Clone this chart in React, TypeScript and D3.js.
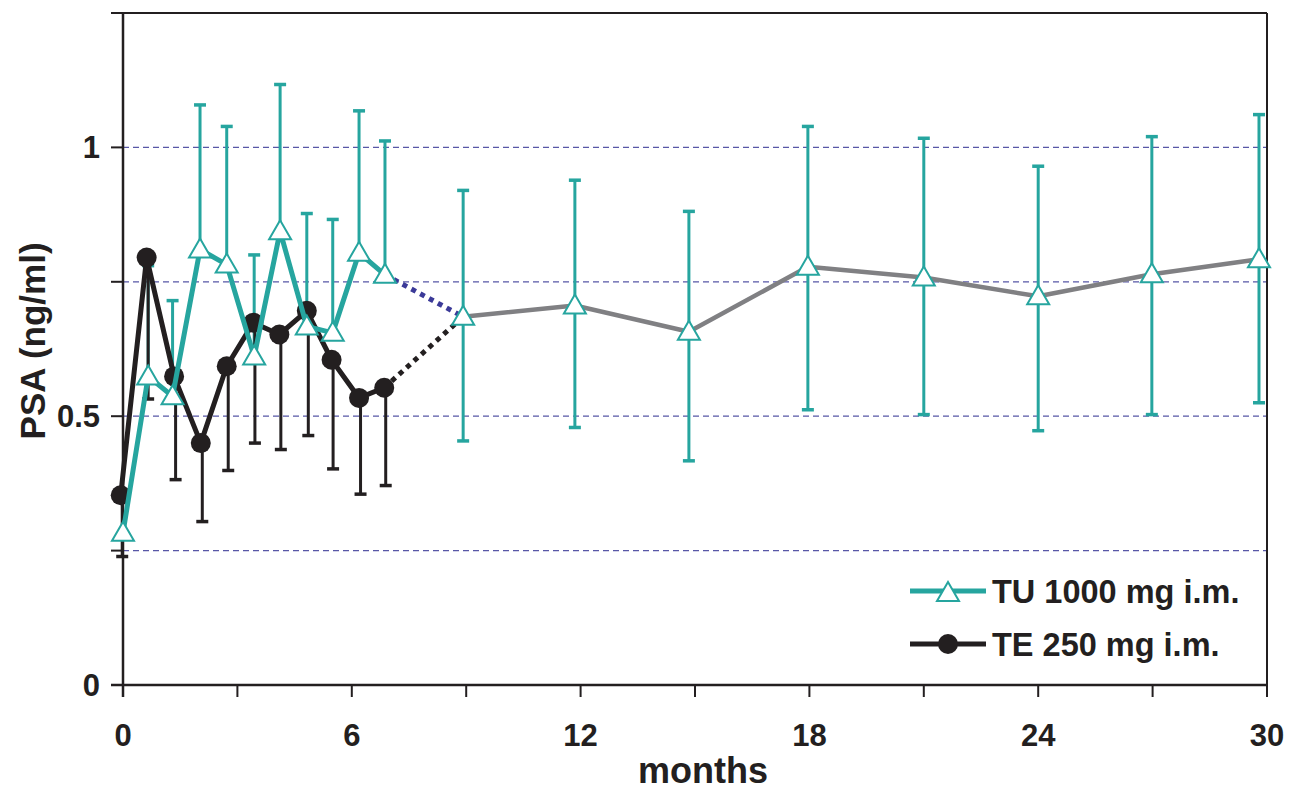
import React from "react";
import * as d3 from "d3";

// ---- data ----
const tuMonths = [0, 0.66, 1.3, 2.02, 2.72, 3.44, 4.12, 4.82, 5.5, 6.19, 6.87, 8.92, 11.85, 14.84, 17.96, 21.0, 24.0, 26.98, 29.79];
const tuMean = [0.283, 0.574, 0.537, 0.81, 0.782, 0.611, 0.844, 0.667, 0.655, 0.804, 0.763, 0.685, 0.706, 0.657, 0.778, 0.758, 0.723, 0.764, 0.792];
const tuUpper: (number | null)[] = [null, 0.78, 0.715, 1.079, 1.039, 0.8, 1.117, 0.877, 0.866, 1.068, 1.012, 0.92, 0.939, 0.881, 1.039, 1.017, 0.965, 1.02, 1.061];
const tuLower: (number | null)[] = [null, null, null, null, null, null, null, null, null, null, null, 0.454, 0.479, 0.417, 0.512, 0.503, 0.473, 0.503, 0.525];
const tuEarlyCount = 11; // points in the first (teal) phase

const teMonths = [-0.06, 0.62, 1.34, 2.04, 2.72, 3.42, 4.1, 4.82, 5.47, 6.19, 6.85];
const teMean = [0.353, 0.795, 0.574, 0.45, 0.593, 0.674, 0.652, 0.696, 0.605, 0.534, 0.553];
const teLower = [0.239, 0.532, 0.382, 0.304, 0.399, 0.45, 0.438, 0.464, 0.402, 0.355, 0.371];

const xTickValues = [0, 3, 6, 9, 12, 15, 18, 21, 24, 27, 30];
const xTickLabels = [0, 6, 12, 18, 24, 30];
const yTickValues = [0, 0.25, 0.5, 0.75, 1, 1.25];
const yTickLabels = [0, 0.5, 1];
const gridValues = [0.25, 0.5, 0.75, 1];

const legendLabels = ["TU 1000 mg i.m.", "TE 250 mg i.m."];

// ---- styles ----
const TEAL = "#26a59f";
const GRAY = "#808083";
const NAVY = "#3b3a98";
const BLACK = "#231f20";
const FONT = "'Liberation Sans', Arial, Helvetica, sans-serif";

const W = 1298;
const H = 791;
const m = { left: 123, right: 31, top: 13, bottom: 106 };

export default function App() {
  const x = d3.scaleLinear().domain([0, 30]).range([m.left, W - m.right]);
  const y = d3.scaleLinear().domain([0, 1.25]).range([H - m.bottom, m.top]);

  const line = d3
    .line<[number, number]>()
    .x((d) => x(d[0]))
    .y((d) => y(d[1]));

  const tuPts: [number, number][] = tuMonths.map((mm, i) => [mm, tuMean[i]]);
  const tePts: [number, number][] = teMonths.map((mm, i) => [mm, teMean[i]]);
  const tuEarly = tuPts.slice(0, tuEarlyCount);
  const tuLate = tuPts.slice(tuEarlyCount);
  const tuBridge = [tuPts[tuEarlyCount - 1], tuPts[tuEarlyCount]];
  const teBridge = [tePts[tePts.length - 1], tuPts[tuEarlyCount]];

  const tri = (cx: number, cy: number) =>
    `M${cx},${cy - 11} L${cx + 11},${cy + 8} L${cx - 11},${cy + 8} Z`;

  const x0 = x(0);
  const x30 = x(30);
  const yBase = y(0);
  const yTop = y(1.25);

  return (
    <svg
      width={W}
      height={H}
      style={{ position: "absolute", left: 0, top: 0, background: "#fff" }}
      fontFamily={FONT}
    >
      {/* grid */}
      {gridValues.map((g) => (
        <line
          key={g}
          x1={x0}
          x2={x30}
          y1={y(g)}
          y2={y(g)}
          stroke={NAVY}
          strokeWidth={1.2}
          strokeDasharray="6 4"
          opacity={0.85}
        />
      ))}

      {/* frame */}
      <line x1={x0 - 12} x2={x30} y1={yTop} y2={yTop} stroke={BLACK} strokeWidth={2} />
      <line x1={x30} x2={x30} y1={yTop} y2={yBase + 12} stroke={BLACK} strokeWidth={2} />
      <line x1={x0} x2={x0} y1={yTop} y2={yBase + 12} stroke={BLACK} strokeWidth={2.5} />
      <line x1={x0 - 12} x2={x30} y1={yBase} y2={yBase} stroke={BLACK} strokeWidth={2.5} />

      {/* ticks */}
      {xTickValues.map((t) => (
        <line key={"xt" + t} x1={x(t)} x2={x(t)} y1={yBase} y2={yBase + 12} stroke={BLACK} strokeWidth={2} />
      ))}
      {yTickValues.map((t) => (
        <line key={"yt" + t} x1={x0 - 12} x2={x0} y1={y(t)} y2={y(t)} stroke={BLACK} strokeWidth={2} />
      ))}
      {xTickLabels.map((t) => (
        <text key={"xl" + t} x={x(t)} y={yBase + 61} textAnchor="middle" fontSize={31} fontWeight="bold" fill={BLACK}>
          {t}
        </text>
      ))}
      {yTickLabels.map((t) => (
        <text key={"yl" + t} x={x0 - 23} y={y(t) + 11} textAnchor="end" fontSize={31} fontWeight="bold" fill={BLACK}>
          {t}
        </text>
      ))}
      <text x={(x0 + x30) / 2 + 8} y={H - 8} textAnchor="middle" fontSize={36} fontWeight="bold" fill={BLACK}>
        months
      </text>
      <text
        transform={`translate(45, ${y(0.64)}) rotate(-90)`}
        textAnchor="middle"
        fontSize={35}
        fontWeight="bold"
        fill={BLACK}
      >
        PSA (ng/ml)
      </text>

      {/* TU error bars */}
      {tuMonths.map((mm, i) => {
        const cx = x(mm);
        const up = tuUpper[i];
        const lo = tuLower[i];
        return (
          <g key={"tue" + i} stroke={TEAL} strokeWidth={3}>
            {up != null && (
              <>
                <line x1={cx} x2={cx} y1={y(tuMean[i])} y2={y(up)} />
                <line x1={cx - 6} x2={cx + 6} y1={y(up)} y2={y(up)} strokeWidth={3.5} />
              </>
            )}
            {lo != null && (
              <>
                <line x1={cx} x2={cx} y1={y(tuMean[i])} y2={y(lo)} />
                <line x1={cx - 6} x2={cx + 6} y1={y(lo)} y2={y(lo)} strokeWidth={3.5} />
              </>
            )}
          </g>
        );
      })}

      {/* TE error bars */}
      {teMonths.map((mm, i) => {
        const cx = x(mm) + 1.5;
        return (
          <g key={"tee" + i} stroke={BLACK} strokeWidth={3}>
            <line x1={cx} x2={cx} y1={y(teMean[i])} y2={y(teLower[i])} />
            <line x1={cx - 6} x2={cx + 6} y1={y(teLower[i])} y2={y(teLower[i])} strokeWidth={3.5} />
          </g>
        );
      })}

      {/* TE line + markers */}
      <path d={line(teBridge) || ""} fill="none" stroke={BLACK} strokeWidth={5} strokeDasharray="5 5" />
      <path d={line(tePts) || ""} fill="none" stroke={BLACK} strokeWidth={5} strokeLinejoin="round" />
      {tePts.map((p, i) => (
        <circle key={"tc" + i} cx={x(p[0])} cy={y(p[1])} r={10} fill={BLACK} />
      ))}

      {/* TU lines */}
      <path d={line(tuBridge) || ""} fill="none" stroke={NAVY} strokeWidth={5} strokeDasharray="5 5" />
      <path d={line(tuLate) || ""} fill="none" stroke={GRAY} strokeWidth={4.5} strokeLinejoin="round" />
      <path d={line(tuEarly) || ""} fill="none" stroke={TEAL} strokeWidth={5} strokeLinejoin="round" />
      {tuPts.map((p, i) => (
        <path key={"tt" + i} d={tri(x(p[0]), y(p[1]))} fill="#fff" stroke={TEAL} strokeWidth={2} />
      ))}

      {/* legend */}
      <g>
        <line x1={910} x2={986} y1={591} y2={591} stroke={TEAL} strokeWidth={5} />
        <path d={tri(948, 593)} fill="#fff" stroke={TEAL} strokeWidth={2} />
        <text x={992} y={603} fontSize={32.5} fontWeight="bold" fill={BLACK}>
          {legendLabels[0]}
        </text>
        <line x1={910} x2={986} y1={644} y2={644} stroke={BLACK} strokeWidth={5} />
        <circle cx={948} cy={644} r={10} fill={BLACK} />
        <text x={992} y={656} fontSize={32.5} fontWeight="bold" fill={BLACK}>
          {legendLabels[1]}
        </text>
      </g>
    </svg>
  );
}
